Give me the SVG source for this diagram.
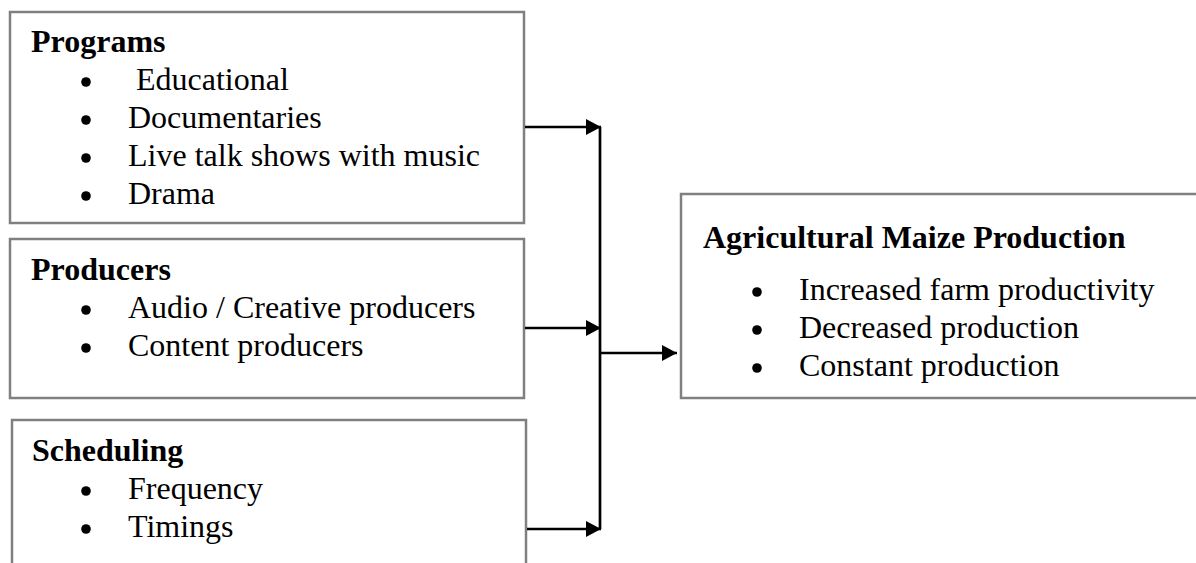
<svg xmlns="http://www.w3.org/2000/svg" width="1196" height="563" viewBox="0 0 1196 563">
  <style>
    .box { fill: #ffffff; stroke: #808080; stroke-width: 2.5; }
    .title { font-family: "Liberation Serif", "Times New Roman", serif; font-size: 32px; font-weight: bold; fill: #000; }
    .item { font-family: "Liberation Serif", "Times New Roman", serif; font-size: 32px; fill: #000; }
    .bullet { fill: #000; }
    .conn { stroke: #000; stroke-width: 2.7; fill: none; }
  </style>
  <defs>
    <marker id="arrow" markerWidth="16" markerHeight="16" refX="15" refY="8" orient="auto" markerUnits="userSpaceOnUse">
      <path d="M0,0 L15,8 L0,16 Z" fill="#000"/>
    </marker>
  </defs>
  <rect width="1196" height="563" fill="#ffffff"/>

  <g id="programs">
    <rect class="box" x="10" y="12" width="514" height="211"/>
    <text class="title" x="31" y="52">Programs</text>
    <circle class="bullet" cx="86" cy="82" r="4.8"/>
    <text class="item" x="136" y="90">Educational</text>
    <circle class="bullet" cx="86" cy="120" r="4.8"/>
    <text class="item" x="128" y="128">Documentaries</text>
    <circle class="bullet" cx="86" cy="158" r="4.8"/>
    <text class="item" x="128" y="166">Live talk shows with music</text>
    <circle class="bullet" cx="86" cy="196" r="4.8"/>
    <text class="item" x="128" y="204">Drama</text>
  </g>

  <g id="producers">
    <rect class="box" x="10" y="239" width="514" height="159"/>
    <text class="title" x="31" y="280">Producers</text>
    <circle class="bullet" cx="86" cy="310" r="4.8"/>
    <text class="item" x="128" y="318">Audio / Creative producers</text>
    <circle class="bullet" cx="86" cy="348" r="4.8"/>
    <text class="item" x="128" y="356">Content producers</text>
  </g>

  <g id="scheduling">
    <rect class="box" x="12" y="420" width="514" height="160"/>
    <text class="title" x="32" y="461">Scheduling</text>
    <circle class="bullet" cx="86" cy="491" r="4.8"/>
    <text class="item" x="128" y="499">Frequency</text>
    <circle class="bullet" cx="86" cy="529" r="4.8"/>
    <text class="item" x="128" y="537">Timings</text>
  </g>

  <g id="agricultural-maize-production">
    <rect class="box" x="681" y="194" width="530" height="204"/>
    <text class="title" x="703" y="248">Agricultural Maize Production</text>
    <circle class="bullet" cx="757" cy="292" r="4.8"/>
    <text class="item" x="799" y="300">Increased farm productivity</text>
    <circle class="bullet" cx="757" cy="330" r="4.8"/>
    <text class="item" x="799" y="338">Decreased production</text>
    <circle class="bullet" cx="757" cy="368" r="4.8"/>
    <text class="item" x="799" y="376">Constant production</text>
  </g>

  <g id="connectors">
    <line class="conn" x1="600" y1="127" x2="600" y2="529"/>
    <line class="conn" x1="525" y1="127" x2="601" y2="127" marker-end="url(#arrow)"/>
    <line class="conn" x1="525" y1="328" x2="601" y2="328" marker-end="url(#arrow)"/>
    <line class="conn" x1="527" y1="529" x2="601" y2="529" marker-end="url(#arrow)"/>
    <line class="conn" x1="600" y1="353" x2="677" y2="353" marker-end="url(#arrow)"/>
  </g>
</svg>
